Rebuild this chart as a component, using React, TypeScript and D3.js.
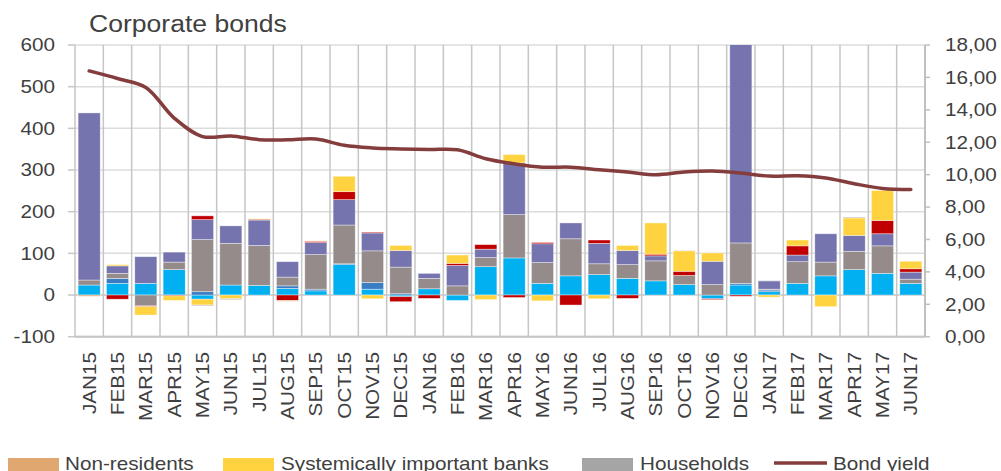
import React from 'react';
import * as d3 from 'd3';

const W = 1001;
const H = 471;

const months = [
  'JAN15', 'FEB15', 'MAR15', 'APR15', 'MAY15', 'JUN15', 'JUL15', 'AUG15', 'SEP15', 'OCT15',
  'NOV15', 'DEC15', 'JAN16', 'FEB16', 'MAR16', 'APR16', 'MAY16', 'JUN16', 'JUL16', 'AUG16',
  'SEP16', 'OCT16', 'NOV16', 'DEC16', 'JAN17', 'FEB17', 'MAR17', 'APR17', 'MAY17', 'JUN17',
];

// stacked series (bottom to top)
const otherBanks = [24, 28, 28, 61, -10, 24, 23, 16, 10, 73, 14, -4, 15, -13, 68, 89, 28, 46, 49, 40, 34, 25, -9, 24, 8, 28, 46, 61, 52, 28];
const insurance = [0, 12, 0, 0, 8, 0, 0, 6, 4, 2, 16, 3, 0, 0, 0, 0, 0, 0, 0, 0, 0, 0, 0, 4, 4, 0, 0, 0, 0, 0];
const investmentFunds = [12, 12, -26, 18, 125, 100, 96, 21, 83, 93, 76, 64, 25, 22, 22, 104, 50, 89, 26, 33, 48, 22, 25, 97, 2, 52, 33, 44, 66, 10];
const pensionFunds = [401, 18, 64, 24, 48, 42, 61, 37, 29, 61, 43, 40, 12, 49, 20, 124, 45, 38, 49, 34, 12, 0, 56, 520, 20, 16, 68, 38, 29, 17];
const otherFinancial = [0, -10, -2, -2, 9, 0, 2, -13, 3, 19, 2, -12, -8, 5, 11, -6, 3, -24, 8, -8, 4, 10, -2, -3, 0, 22, 0, 0, 32, 8];
const systemicBanks = [0, 3, -20, -11, -14, -9, 1, 0, 0, 37, -9, 12, 0, 20, -11, 20, -14, 0, -9, 12, 75, 49, 20, 0, -5, 14, -28, 42, 72, 18];
const households = [0, 0, 0, 0, -2, -2, 0, 0, 0, 0, 0, 0, 0, 0, 0, 0, 0, 0, 0, 0, 0, 1, 0, 0, 1, 0, 0, 2, 0, 0];
const nonResidents = [-3, 0, 0, 0, 0, 0, 0, -2, 1, 0, 0, 0, 0, 0, 0, 0, 0, 0, 0, 0, 0, 0, 0, 0, 0, 0, 0, 0, 0, 0];

// line series (right axis)
const bondYield = [16.40, 15.93, 15.38, 13.49, 12.35, 12.39, 12.16, 12.15, 12.20, 11.81, 11.65, 11.59, 11.55, 11.53, 10.98, 10.67, 10.46, 10.46, 10.30, 10.16, 9.99, 10.16, 10.22, 10.10, 9.91, 9.93, 9.79, 9.44, 9.15, 9.09];

const leftTicks = [-100, 0, 100, 200, 300, 400, 500, 600];
const rightTicks = [0, 2, 4, 6, 8, 10, 12, 14, 16, 18];

const series = [
  { key: 'otherBanks', name: 'Other banks', values: otherBanks, color: '#00B0F0' },
  { key: 'insurance', name: 'Insurance companies', values: insurance, color: '#3B7DC3' },
  { key: 'investmentFunds', name: 'Investment funds', values: investmentFunds, color: '#958B8B' },
  { key: 'pensionFunds', name: 'Pension funds', values: pensionFunds, color: '#7674AE' },
  { key: 'otherFinancial', name: 'Other financial institutions', values: otherFinancial, color: '#C00000' },
  { key: 'systemicBanks', name: 'Systemically important banks', values: systemicBanks, color: '#FFD23F' },
  { key: 'households', name: 'Households', values: households, color: '#A5A5A5' },
  { key: 'nonResidents', name: 'Non-residents', values: nonResidents, color: '#E0A870' },
];

const FONT = "'Liberation Sans', Arial, sans-serif";
const TXT = '#404040';
const STRETCH = 1.15;

function SText(props: { x: number; y: number; rot?: number; anchor?: string; size?: number; sx?: number; children: React.ReactNode }) {
  const { x, y, rot = 0, anchor = 'start', size = 18, sx = STRETCH, children } = props;
  return (
    <text
      transform={`translate(${x},${y}) rotate(${rot}) scale(${sx},1)`}
      textAnchor={anchor as any}
      fontSize={size}
      fontFamily={FONT}
      fill={TXT}
    >
      {children}
    </text>
  );
}

const fmtR = (v: number) => v.toFixed(2).replace('.', ',');

export default function App() {
  const left = 75;
  const right = 925;
  const top = 45;
  const bottom = 336.7;

  const x = d3.scaleBand<string>().domain(months).range([left, right]).paddingInner(0.22).paddingOuter(0.11);
  const yL = d3.scaleLinear().domain([-100, 600]).range([bottom, top]);
  const yR = d3.scaleLinear().domain([0, 18]).range([bottom, top]);
  const step = x.step();

  const rows = months.map((m, i) => {
    const r: any = { month: m };
    series.forEach((s) => (r[s.key] = s.values[i]));
    return r;
  });
  const stacked = d3.stack<any>().keys(series.map((s) => s.key)).offset(d3.stackOffsetDiverging)(rows);

  const line = d3
    .line<number>()
    .x((_, i) => (x(months[i]) as number) + x.bandwidth() / 2)
    .y((d) => yR(d))
    .curve(d3.curveCatmullRom.alpha(0.5));

  const boundaries = d3.range(months.length + 1).map((i) => left + i * step);

  const legendRow1 = [
    { type: 'rect', color: '#E0A870', label: 'Non-residents', sx: 8, tx: 65 },
    { type: 'rect', color: '#FFD23F', label: 'Systemically important banks', sx: 223, tx: 281 },
    { type: 'rect', color: '#A5A5A5', label: 'Households', sx: 582, tx: 640 },
    { type: 'line', color: '#843C3C', label: 'Bond yield', sx: 774, tx: 833 },
  ];
  const legendRow2 = [
    { color: '#00B0F0', label: 'Other banks', sx: 8, tx: 65 },
    { color: '#3B7DC3', label: 'Insurance companies', sx: 223, tx: 281 },
    { color: '#958B8B', label: 'Investment funds', sx: 500, tx: 557 },
    { color: '#7674AE', label: 'Pension funds', sx: 720, tx: 777 },
  ];

  return (
    <svg
      width={W}
      height={H}
      style={{ position: 'absolute', left: 0, top: 0, background: '#fff' }}
      xmlns="http://www.w3.org/2000/svg"
    >
      <defs>
        <clipPath id="plotClip">
          <rect x={left} y={top} width={right - left} height={bottom - top} />
        </clipPath>
      </defs>
      <rect x={0} y={0} width={W} height={H} fill="#fff" />

      {/* horizontal gridlines */}
      {leftTicks.map((t) => (
        <line key={'h' + t} x1={left} x2={right} y1={yL(t)} y2={yL(t)} stroke={t === 0 ? '#c4c4c4' : '#dcdcdc'} strokeWidth={t === -100 ? 2 : 1.5} />
      ))}
      {/* vertical gridlines */}
      {boundaries.map((bx, i) => (
        <line key={'v' + i} x1={bx} x2={bx} y1={top} y2={bottom} stroke="#c6c6c6" strokeWidth={1.5} />
      ))}
      {/* left axis ticks */}
      {leftTicks.map((t) => (
        <line key={'lt' + t} x1={left - 7} x2={left} y1={yL(t)} y2={yL(t)} stroke="#c6c6c6" strokeWidth={1.5} />
      ))}
      {/* right axis */}
      <line x1={right} x2={right} y1={top} y2={bottom} stroke="#c0c0c0" strokeWidth={2} />
      {rightTicks.map((t) => (
        <line key={'rt' + t} x1={right} x2={right + 5} y1={yR(t)} y2={yR(t)} stroke="#c0c0c0" strokeWidth={1.5} />
      ))}
      <line x1={left} x2={right} y1={bottom} y2={bottom} stroke="#c6c6c6" strokeWidth={2} />

      {/* bars */}
      <g clipPath="url(#plotClip)">
        {stacked.map((layer, si) => (
          <g key={layer.key} fill={series[si].color}>
            {layer.map((d, i) => {
              const h = Math.abs(yL(d[0]) - yL(d[1]));
              if (h < 0.01) return null;
              return (
                <rect
                  key={i}
                  x={x(months[i])}
                  width={x.bandwidth()}
                  y={Math.min(yL(d[0]), yL(d[1]))}
                  height={h}
                  stroke="#ffffff"
                  strokeOpacity={0.55}
                  strokeWidth={0.7}
                />
              );
            })}
          </g>
        ))}
      </g>

      {/* bond yield line */}
      <path d={line(bondYield) || ''} fill="none" stroke="#843C3C" strokeWidth={3.5} strokeLinejoin="round" strokeLinecap="round" />

      {/* title */}
      <SText x={89} y={32} size={23.5} sx={1.13}>Corporate bonds</SText>

      {/* left labels */}
      {leftTicks.map((t) => (
        <SText key={'ll' + t} x={55} y={yL(t) + 6.3} anchor="end">{String(t)}</SText>
      ))}
      {/* right labels */}
      {rightTicks.map((t) => (
        <SText key={'rl' + t} x={945} y={yR(t) + 6.3}>{fmtR(t)}</SText>
      ))}
      {/* x labels */}
      {months.map((m) => (
        <SText key={'xl' + m} x={(x(m) as number) + x.bandwidth() / 2 + 6.5} y={352} rot={-90} anchor="end">{m}</SText>
      ))}

      {/* legend */}
      {legendRow1.map((l) => (
        <g key={l.label}>
          {l.type === 'rect' ? (
            <rect x={l.sx} y={458} width={51} height={14} fill={l.color} />
          ) : (
            <line x1={l.sx} x2={l.sx + 53} y1={463} y2={463} stroke={l.color} strokeWidth={3.5} />
          )}
          <SText x={l.tx} y={470}>{l.label}</SText>
        </g>
      ))}
      {legendRow2.map((l) => (
        <g key={l.label}>
          <rect x={l.sx} y={485} width={51} height={14} fill={l.color} />
          <SText x={l.tx} y={497}>{l.label}</SText>
        </g>
      ))}
    </svg>
  );
}
